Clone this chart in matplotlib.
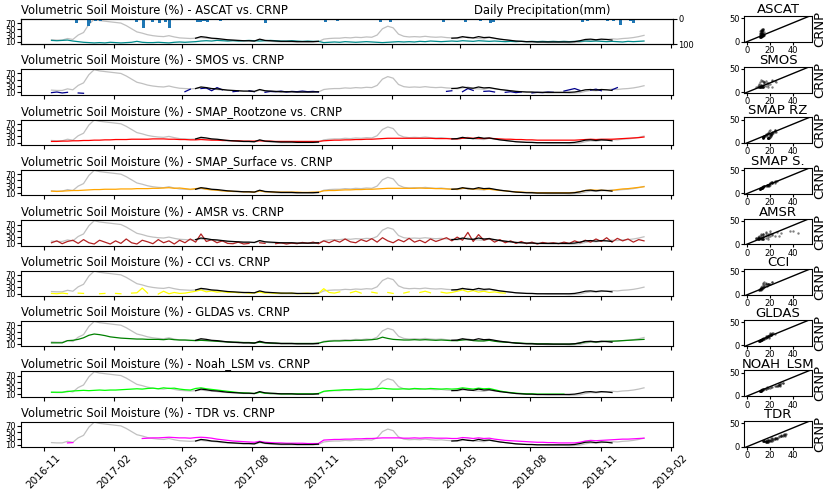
import numpy as np
import pandas as pd
import matplotlib
matplotlib.use('Agg')
import matplotlib.pyplot as plt
import matplotlib.dates as mdates

nan = np.nan

# weekly samples (2016-11-11 ... 2018-12-28)
dates = pd.date_range('2016-11-11', periods=112, freq='7D')

# CRNP, full record (grey)
crnp_all = [17, 16, 16, 21, 18, 32, 40, 66, 82, 78, 76, 74, 72, 70, 62, 52,
            42, 38, 33, 30, 28, 27, 30, 26, 23, 22, 21, 22, 24, 22, 21, 19,
            17, 16, 15, 14, 13, 13, 12, 17, 14, 12, 11, 10, 10, 10, 10, 10,
            10, 10, 11, 19, 21, 22, 22, 24, 23, 25, 24, 26, 25, 32, 52, 60,
            55, 35, 28, 26, 27, 26, 28, 26, 25, 26, 24, 23, 21, 24, 27, 22,
            21, 20, 24, 21, 19, 17, 15, 13, 12, 11, 10, 9, 9, 8, 8, 8,
            8, 7, 8, 9, 13, 16, 15, 17, 18, 20, 19, 21, 22, 24, 27, 31]

# CRNP, comparison periods (black)
crnp = [nan] * 27 + \
       [22, 27, 25, 22, 21,
        19, 17, 16, 15, 14, 14, 13, 19, 15, 14, 13, 12, 12, 12, 11, 11,
        11, 11, 12] + [nan] * 24 + \
       [22, 23, 27, 24, 23,
        27, 24, 25, 22, 19, 17, 15, 13, 12, 11, 11, 10, 10, 10, 10, 10,
        10, 10, 11, 14, 18, 19, 17, 19, 18, 16] + [nan] * 6

ascat = [15, 14, 15, 16, 13, 11, 9, 8, 7, 8, 7, 9, 8, 7, 8, 9,
         12, 9, 8, 8, 9, 8, 7, 9, 10, 9, 10, 11, 13, 14, 13, 15,
         14, 13, 14, 13, 14, 15, 14, 13, 14, 15, 14, 13, 13, 14, 13, 12,
         13, 12, 12, 8, 9, 10, 9, 11, 10, 9, 10, 11, 10, 9, 8, 9,
         10, 11, 10, 11, 10, 12, 11, 13, 12, 11, 12, 13, 12, 14, 13, 12,
         14, 13, 12, 13, 12, 11, 12, 11, 12, 11, 12, 11, 12, 11, 12, 11,
         12, 11, 12, 12, 13, 12, 13, 12, 11, 12, 11, 10, 12, 11, 12, 13]

smos = [9, 11, 8, 10, nan, 8, 7, nan, nan, nan, nan, nan, nan, nan, nan, nan,
        nan, nan, nan, nan, nan, nan, nan, nan, nan, 12, 20, nan, 22, 24, 15, 25,
        18, nan, 12, 14, nan, 15, 12, nan, 10, 13, 12, 14, 11, 13, 12, 14,
        12, 13, 11, nan, nan, nan, nan, nan, nan, nan, nan, nan, nan, nan, nan, nan,
        nan, nan, nan, nan, nan, nan, nan, nan, nan, nan, 13, 15, nan, 12, 22, 16,
        nan, 13, 14, 11, nan, 10, 12, 9, 11, nan, 8, 10, 9, 11, 10, nan,
        14, 18, 22, 16, nan, 17, 20, 15, nan, 18, 25, nan, nan, nan, nan, nan]

smap_rz = [14, 14, 15, 15, 16, 16, 17, 17, 18, 18, 19, 19, 20, 20, 20, 21,
           21, 21, 21, 22, 22, 22, 21, 21, 20, 20, 19, 19, 20, 19, 18, 18,
           17, 17, 16, 16, 15, 15, 15, 16, 15, 15, 14, 14, 14, 14, 14, 14,
           14, 14, 14, 16, 17, 18, 18, 19, 19, 20, 20, 21, 21, 22, 23, 24,
           24, 24, 24, 24, 24, 24, 24, 24, 23, 23, 23, 22, 22, 24, 25, 24,
           24, 23, 24, 23, 22, 21, 21, 20, 20, 19, 19, 18, 18, 18, 18, 18,
           18, 18, 18, 19, 20, 21, 20, 21, 21, 21, 22, 23, 24, 25, 26, 28]

smap_s = [16, 15, 16, 17, 18, 18, 19, 20, 21, 21, 22, 22, 22, 23, 23, 23,
          24, 24, 24, 25, 25, 26, 27, 25, 26, 24, 22, 24, 26, 22, 20, 19,
          17, 16, 15, 15, 14, 14, 13, 17, 14, 14, 13, 13, 13, 13, 13, 12,
          12, 13, 13, 17, 18, 18, 19, 20, 20, 21, 21, 22, 22, 23, 24, 25,
          25, 25, 25, 25, 25, 26, 25, 25, 24, 24, 23, 22, 22, 25, 24, 22,
          24, 21, 22, 20, 18, 17, 15, 14, 13, 12, 12, 11, 11, 11, 11, 11,
          11, 11, 12, 14, 18, 20, 19, 19, 18, 18, 21, 23, 24, 26, 28, 30]

amsr = [12, 18, 9, 16, 20, 10, 22, 12, 8, 20, 14, 8, 18, 10, 24, 12,
        8, 20, 15, 9, 22, 12, 18, 8, 20, 12, 24, 14, 40, 16, 22, 12,
        18, 10, 9, 14, 8, 10, nan, 12, 10, nan, 9, 12, 8, 11, 9, 13,
        10, 14, 9, 18, 12, 20, 14, 24, 15, 12, 22, 16, 25, 14, 28, 18,
        12, 22, 15, 26, 14, 20, 12, 24, 16, 22, 28, 18, 30, 20, 45, 16,
        38, 20, 26, 14, 22, 12, 18, 10, 16, 9, 14, 8, 13, 10, 12, 9,
        14, 10, 18, 12, 20, 14, 24, 16, 28, 14, 26, 18, 24, 14, 22, 18]

cci = [11, 10, 12, 10, nan, 12, 11, nan, nan, 10, 11, nan, 11, 10, nan, 12,
       13, 28, 12, nan, 9, 18, 10, 14, 11, 12, 15, 18, 22, 16, 19, 15,
       17, 14, 15, 13, 14, 12, 13, 15, 12, 13, 11, 12, 11, 12, 10, 11,
       12, 10, 11, 26, 14, 12, 16, nan, 13, 18, 12, nan, 15, 12, nan, 14,
       11, nan, 12, 16, nan, 14, 18, 13, nan, 15, 12, 14, 18, 22, 16, 20,
       15, 18, 14, 16, 13, 12] + [nan] * 26

gldas = [14, 14, 14, 21, 22, 25, 30, 38, 42, 40, 37, 33, 31, 29, 28, 27,
         26, 26, 25, 25, 25, 24, 26, 24, 23, 23, 22, 21, 22, 21, 20, 19,
         18, 17, 16, 16, 15, 15, 14, 16, 14, 13, 13, 12, 12, 12, 12, 12,
         12, 12, 13, 17, 19, 20, 20, 21, 21, 22, 22, 23, 24, 26, 32, 28,
         25, 24, 23, 23, 24, 23, 24, 23, 22, 23, 22, 21, 21, 23, 24, 21,
         20, 20, 22, 19, 17, 16, 15, 14, 13, 12, 12, 11, 11, 11, 10, 10,
         10, 10, 11, 13, 17, 18, 17, 18, 19, 19, 20, 21, 22, 23, 24, 25]

noah = [17, 17, 17, 19, 21, 22, 23, 22, 23, 24, 23, 24, 24, 25, 26, 27,
        28, 27, 29, 30, 28, 31, 29, 30, 27, 25, 24, 29, 31, 28, 26, 24,
        22, 20, 18, 16, 15, 14, 13, 17, 14, 13, 13, 12, 12, 12, 12, 12,
        12, 12, 13, 20, 22, 23, 24, 25, 25, 26, 27, 26, 27, 28, 30, 28,
        27, 27, 28, 27, 29, 28, 27, 29, 28, 27, 28, 27, 28, 31, 29, 27,
        30, 28, 29, 25, 21, 18, 16, 14, 13, 12, 12, 11, 11, 11, 11, 11,
        11] + [nan] * 15

tdr = [nan, nan, nan, 16, 17] + [nan] * 12 + \
      [30, 31, 32, 32, 33, 34, 33, 32, 32, 31, 33, 34, 33, 31, 28,
       26, 24, 22, 21, 20, 19, 18, 21, 18, 17, 16, 16, 15, 15, 15, 15,
       14, 14, 14, 25, 26, 27, 27, 28, 28, 29, 29, 30, 30, 31, 32, 32,
       32, 32, 31, 31, 32, 31, 32, 32, 31, 31, 31, 30, 30, 33, 32, 30,
       32, 30, 31, 28, 26, 24, 23, 22, 21, 20, 19, 18, 18, 17, 17, 16,
       16, 16, 16, 18, 22, 24, 23, 24, 25, 26, 27, 28, 28, 29, 30, 31]

# daily precipitation events (mm)
precip_dates = pd.to_datetime([
    '2016-12-01', '2016-12-14', '2016-12-29', '2016-12-31', '2017-01-08', '2017-01-14',
    '2017-03-03', '2017-03-12', '2017-03-24', '2017-04-02', '2017-04-09', '2017-04-15',
    '2017-05-21', '2017-05-25', '2017-05-30', '2017-06-03', '2017-06-20', '2017-08-19',
    '2017-11-05', '2017-11-21', '2017-12-04', '2017-12-18', '2017-12-30', '2018-01-16',
    '2018-01-29', '2018-02-11', '2018-02-25', '2018-03-10', '2018-03-27', '2018-04-09',
    '2018-04-18', '2018-05-08', '2018-05-27', '2018-06-10', '2018-06-14', '2018-10-08',
    '2018-10-15', '2018-11-01', '2018-11-10', '2018-11-18', '2018-11-27', '2018-12-10',
    '2018-12-14', '2018-12-24'])
precip_mm = [5, 15, 28, 15, 8, 6,
             10, 36, 10, 15, 12, 35,
             10, 12, 8, 10, 8, 15,
             12, 6, 5, 5, 5, 10,
             10, 5, 5, 5, 5, 12,
             5, 10, 8, 15, 12, 12,
             8, 5, 8, 8, 25, 8,
             15, 5]

names = ['ASCAT', 'SMOS', 'SMAP_Rootzone', 'SMAP_Surface', 'AMSR', 'CCI',
         'GLDAS', 'Noah_LSM', 'TDR']
short_names = ['ASCAT', 'SMOS', 'SMAP RZ', 'SMAP S.', 'AMSR', 'CCI',
               'GLDAS', 'NOAH_LSM', 'TDR']
colors = ['darkcyan', 'darkblue', 'red', 'orange', 'firebrick', 'yellow',
          'green', 'lime', 'magenta']
series = [ascat, smos, smap_rz, smap_s, amsr, cci, gldas, noah, tdr]

fig = plt.figure(figsize=(8.3, 4.93), dpi=100)
gs_l = fig.add_gridspec(9, 1, left=21/830, right=673/830,
                        top=1 - 19/493, bottom=1 - 447/493, hspace=1.0)
gs_r = fig.add_gridspec(9, 1, left=744/830, right=812/830,
                        top=1 - 16/493, bottom=1 - 447/493, hspace=0.95)

crnp_arr = np.array(crnp, dtype=float)

for i in range(9):
    sm = np.array(series[i], dtype=float)

    ax = fig.add_subplot(gs_l[i])
    ax.plot(dates, crnp_all, color='silver', lw=0.9)
    ax.plot(dates, sm, color=colors[i], lw=0.9)
    ax.plot(dates, crnp_arr, color='k', lw=0.9)
    ax.set_ylim(3, 83)
    ax.set_yticks([10, 30, 50, 70])
    ax.set_xlim(pd.Timestamp('2016-10-02'), pd.Timestamp('2019-02-04'))
    ax.xaxis.set_major_locator(mdates.MonthLocator(bymonth=[2, 5, 8, 11]))
    ax.xaxis.set_major_formatter(mdates.DateFormatter('%Y-%m'))
    ax.tick_params(labelsize=6, pad=1, length=3)
    ax.set_title('Volumetric Soil Moisture (%) - ' + names[i] + ' vs. CRNP',
                 loc='left', fontsize=8.3, pad=3.5)
    if i < 8:
        ax.tick_params(labelbottom=False)
    else:
        ax.tick_params(axis='x', labelsize=7.5, pad=1)
        plt.setp(ax.get_xticklabels(), rotation=45)

    if i == 0:
        ax2 = ax.twinx()
        ax2.bar(precip_dates, precip_mm, width=4, color='tab:blue')
        ax2.set_ylim(100, 0)
        ax2.set_yticks([0, 100])
        ax2.tick_params(labelsize=6, pad=1, length=3)
        ax2.set_title('Daily Precipitation(mm)', x=0.8, fontsize=8.3, pad=3.5)

    # scatter against CRNP
    axs = fig.add_subplot(gs_r[i])
    ok = ~np.isnan(sm) & ~np.isnan(crnp_arr)
    axs.scatter(sm[ok], crnp_arr[ok], s=3, color='k', alpha=0.5, lw=0)
    axs.plot([-5, 60], [-5, 60], color='k', lw=1)
    axs.set_xlim(-3, 57)
    axs.set_ylim(-1, 55)
    axs.set_xticks([0, 20, 40])
    axs.set_yticks([0, 50])
    axs.tick_params(labelsize=6, pad=1, length=2)
    axs.set_title(short_names[i], fontsize=9.5, pad=1)
    axs.set_ylabel('CRNP', fontsize=9.5, labelpad=1)
    axs.yaxis.set_label_position('right')

fig.savefig('out.png', dpi=100)
